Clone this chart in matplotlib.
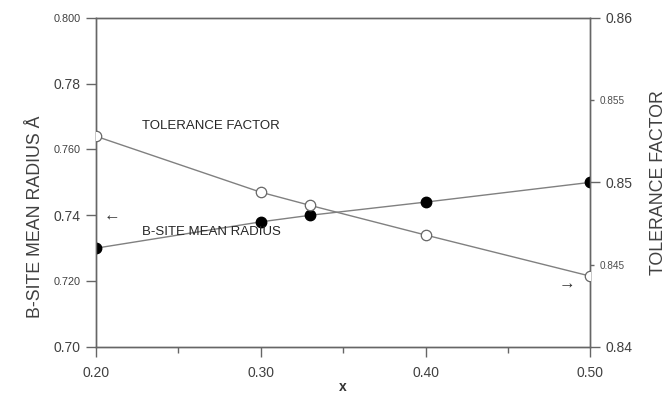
import matplotlib.pyplot as plt
from matplotlib.ticker import FixedLocator, FixedFormatter

plt.rcParams['font.family'] = ['Liberation Sans', 'DejaVu Sans']

x = [0.20, 0.30, 0.33, 0.40, 0.50]
radius = [0.730, 0.738, 0.740, 0.744, 0.750]
tolerance = [0.8528, 0.8494, 0.8486, 0.8468, 0.8443]

x_ticks = [0.20, 0.30, 0.40, 0.50]
x_labels = ['0.20', '0.30', '0.40', '0.50']
left_ticks = [0.70, 0.72, 0.74, 0.76, 0.78, 0.80]
left_labels = ['0.70', '0.720', '0.74', '0.760', '0.78', '0.800']
right_major = [0.84, 0.85, 0.86]
right_major_labels = ['0.84', '0.85', '0.86']
right_minor = [0.845, 0.855]
right_minor_labels = ['0.845', '0.855']


def main():
    fig = plt.figure(figsize=(6.67, 3.96), dpi=100)
    ax = fig.add_axes([0.144, 0.124, 0.741, 0.831])
    ax2 = ax.twinx()

    line_c = '0.5'
    ax.plot(x, radius, color=line_c, lw=1, marker='o', ms=7.5,
            mfc='black', mec='black', zorder=3)
    ax2.plot(x, tolerance, color=line_c, lw=1, marker='o', ms=7.5,
             mfc='white', mec='0.4', mew=0.9, zorder=3)

    ax.set_xlim(0.20, 0.50)
    ax.set_ylim(0.70, 0.80)
    ax2.set_ylim(0.84, 0.86)

    ax.xaxis.set_major_locator(FixedLocator(x_ticks))
    ax.xaxis.set_major_formatter(FixedFormatter(x_labels))
    ax.xaxis.set_minor_locator(FixedLocator([0.25, 0.35, 0.45]))
    ax.yaxis.set_major_locator(FixedLocator(left_ticks))
    ax.yaxis.set_major_formatter(FixedFormatter(left_labels))
    ax2.yaxis.set_major_locator(FixedLocator(right_major))
    ax2.yaxis.set_major_formatter(FixedFormatter(right_major_labels))
    ax2.yaxis.set_minor_locator(FixedLocator(right_minor))
    ax2.yaxis.set_minor_formatter(FixedFormatter(right_minor_labels))

    for a in (ax, ax2):
        for s in a.spines.values():
            s.set_color('0.4')
            s.set_linewidth(1.0)
        a.tick_params(which='major', direction='out', length=7, width=1,
                      color='0.4', labelsize=10, labelcolor='0.25', pad=4)
    ax.tick_params(axis='x', which='major', pad=7)
    ax.tick_params(axis='x', which='minor', direction='out', length=4.5,
                   width=1, color='0.4')
    ax2.tick_params(axis='y', which='minor', direction='out', length=3,
                    width=1, color='0.4', labelsize=7.2, labelcolor='0.3', pad=4)

    # smaller labels on some ticks
    for lab in ax.get_yticklabels():
        if len(lab.get_text()) == 5:
            lab.set_fontsize(7.8)

    ax.set_xlabel('x', fontsize=10, fontweight='bold', color='0.2')
    ax.xaxis.set_label_coords(0.5, -0.102)
    ax.set_ylabel('B-SITE MEAN RADIUS Å', fontsize=12.8, color='0.25')
    ax.yaxis.set_label_coords(-0.105, 0.395)
    ax2.set_ylabel('TOLERANCE FACTOR', fontsize=12.8, color='0.25')
    ax2.yaxis.set_label_coords(1.12, 0.5)

    ax.text(0.228, 0.7672, 'TOLERANCE FACTOR', fontsize=9.5, color='0.15',
            va='center', ha='left')
    ax.text(0.228, 0.7350, 'B-SITE MEAN RADIUS', fontsize=9.5, color='0.15',
            va='center', ha='left')
    ax.text(0.2095, 0.7398, '←', fontsize=12, color='0.2', va='center', ha='center')
    ax.text(0.486, 0.7191, '→', fontsize=12, color='0.2', va='center', ha='center')

    fig.savefig('out.png', dpi=100)


if __name__ == "__main__":
    main()
